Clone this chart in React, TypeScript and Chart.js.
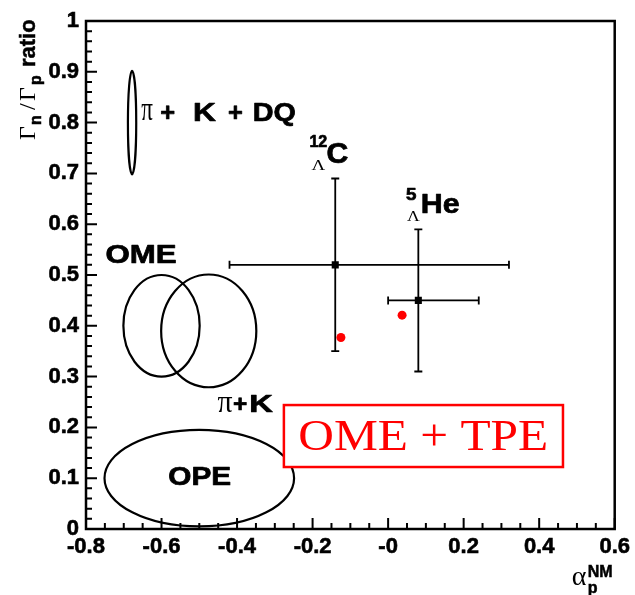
import React, { useEffect, useRef } from "react";
import { Chart, registerables } from "chart.js";

Chart.register(...registerables);

// ---- axis ticks ----
const xTickLabels = ["-0.8", "-0.6", "-0.4", "-0.2", "-0", "0.2", "0.4", "0.6"];
const yTickLabels = ["0", "0.1", "0.2", "0.3", "0.4", "0.5", "0.6", "0.7", "0.8", "0.9", "1"];
const xMin = -0.8;
const xMax = 0.6;
const yMin = 0;
const yMax = 1;

// ---- measured hypernuclei (black squares with error bars) ----
const expNames = ["12C", "5He"];
const expX = [-0.14, 0.08];
const expY = [0.52, 0.45];
const expXLow = [-0.42, 0.0];
const expXHigh = [0.32, 0.24];
const expYLow = [0.35, 0.31];
const expYHigh = [0.69, 0.59];

// ---- OME + TPE calculation (red dots) ----
const calcX = [-0.125, 0.037];
const calcY = [0.377, 0.421];

// ---- model regions (ellipses) ----
const ellipseNames = ["π+K+DQ", "OME", "π+K", "OPE"];
const ellipseCx = [-0.678, -0.6, -0.475, -0.5];
const ellipseCy = [0.8, 0.4, 0.39, 0.1];
const ellipseRx = [0.011, 0.101, 0.126, 0.251];
const ellipseRy = [0.102, 0.1, 0.111, 0.095];

const SANS = '"Liberation Sans", Arial, sans-serif';
const SERIF = '"Liberation Serif", "Times New Roman", serif';

// annotation pieces: ink left/right (x data), baseline (y data)
type Piece = { text: string; x0: number; x1: number; y: number; font: string; color?: string };
const pieces: Piece[] = [
  { text: "π", x0: -0.6534, x1: -0.6229, y: 0.806, font: `34px ${SERIF}` },
  { text: "+", x0: -0.6008, x1: -0.5658, y: 0.8022, font: `bold 25px ${SANS}` },
  { text: "K", x0: -0.5132, x1: -0.4561, y: 0.8022, font: `bold 25px ${SANS}` },
  { text: "+", x0: -0.4211, x1: -0.3861, y: 0.8022, font: `bold 25px ${SANS}` },
  { text: "DQ", x0: -0.3553, x1: -0.2455, y: 0.8022, font: `bold 25px ${SANS}` },
  { text: "OME", x0: -0.7455, x1: -0.5613, y: 0.523, font: `bold 26px ${SANS}` },
  { text: "π", x0: -0.4518, x1: -0.4124, y: 0.2309, font: `32px ${SERIF}` },
  { text: "+", x0: -0.4079, x1: -0.3729, y: 0.2309, font: `bold 24px ${SANS}` },
  { text: "K", x0: -0.3639, x1: -0.3026, y: 0.2309, font: `bold 24px ${SANS}` },
  { text: "OPE", x0: -0.5789, x1: -0.4166, y: 0.0866, font: `bold 26px ${SANS}` },
  { text: "12", x0: -0.206, x1: -0.1624, y: 0.7526, font: `bold 17px ${SANS}` },
  { text: "C", x0: -0.1605, x1: -0.1053, y: 0.7199, font: `bold 29px ${SANS}` },
  { text: "Λ", x0: -0.2026, x1: -0.1658, y: 0.7067, font: `15px ${SERIF}` },
  { text: "5", x0: 0.0474, x1: 0.0737, y: 0.6476, font: `bold 17px ${SANS}` },
  { text: "He", x0: 0.0895, x1: 0.1895, y: 0.6215, font: `bold 27px ${SANS}` },
  { text: "Λ", x0: 0.05, x1: 0.0842, y: 0.6069, font: `15px ${SERIF}` },
  { text: "OME + TPE", x0: -0.235, x1: 0.4193, y: 0.1555, font: `45px ${SERIF}`, color: "#ff0000" },
];
// red legend box (data coords)
const boxX = [-0.276, 0.463];
const boxY = [0.122, 0.244];

function fitText(ctx: CanvasRenderingContext2D, p: Piece, x: any, y: any) {
  const px0 = x.getPixelForValue(p.x0);
  const px1 = x.getPixelForValue(p.x1);
  const py = y.getPixelForValue(p.y);
  ctx.save();
  ctx.font = p.font;
  ctx.textAlign = "left";
  ctx.textBaseline = "alphabetic";
  const m = ctx.measureText(p.text);
  const ink = m.actualBoundingBoxLeft + m.actualBoundingBoxRight;
  const sx = ink > 0 ? (px1 - px0) / ink : 1;
  ctx.translate(px0, py);
  ctx.scale(sx, 1);
  const col = p.color || "#000";
  ctx.fillStyle = col;
  ctx.fillText(p.text, m.actualBoundingBoxLeft, 0);
  if (p.font.startsWith("bold")) {
    ctx.strokeStyle = col;
    ctx.lineWidth = 0.7;
    ctx.lineJoin = "round";
    ctx.strokeText(p.text, m.actualBoundingBoxLeft, 0);
  }
  ctx.restore();
}

const overlayPlugin = {
  id: "overlay",
  beforeDatasetsDraw(chart: any) {
    const { ctx, scales } = chart;
    const x = scales.x;
    const y = scales.y;
    ctx.save();
    ctx.strokeStyle = "#000";
    ctx.lineWidth = 2.2;
    for (let i = 0; i < ellipseNames.length; i++) {
      const cx = x.getPixelForValue(ellipseCx[i]);
      const cy = y.getPixelForValue(ellipseCy[i]);
      const rx = Math.abs(x.getPixelForValue(ellipseCx[i] + ellipseRx[i]) - cx);
      const ry = Math.abs(y.getPixelForValue(ellipseCy[i] + ellipseRy[i]) - cy);
      ctx.beginPath();
      ctx.ellipse(cx, cy, rx, ry, 0, 0, Math.PI * 2);
      ctx.stroke();
    }
    // error bars
    ctx.lineWidth = 1.8;
    const cap = 4;
    for (let i = 0; i < expNames.length; i++) {
      const px = x.getPixelForValue(expX[i]);
      const py = y.getPixelForValue(expY[i]);
      const xl = x.getPixelForValue(expXLow[i]);
      const xh = x.getPixelForValue(expXHigh[i]);
      const yl = y.getPixelForValue(expYLow[i]);
      const yh = y.getPixelForValue(expYHigh[i]);
      ctx.beginPath();
      ctx.moveTo(xl, py); ctx.lineTo(xh, py);
      ctx.moveTo(xl, py - cap); ctx.lineTo(xl, py + cap);
      ctx.moveTo(xh, py - cap); ctx.lineTo(xh, py + cap);
      ctx.moveTo(px, yl); ctx.lineTo(px, yh);
      ctx.moveTo(px - cap, yl); ctx.lineTo(px + cap, yl);
      ctx.moveTo(px - cap, yh); ctx.lineTo(px + cap, yh);
      ctx.stroke();
    }
    ctx.restore();
  },
  afterDraw(chart: any) {
    const { ctx, chartArea, scales } = chart;
    const x = scales.x;
    const y = scales.y;
    const { left, right, top, bottom } = chartArea;
    ctx.save();
    // frame
    ctx.strokeStyle = "#000";
    ctx.lineWidth = 2.5;
    ctx.strokeRect(left, top, right - left, bottom - top);
    // inner ticks
    ctx.lineWidth = 2;
    ctx.beginPath();
    const nx = Math.round((xMax - xMin) / 0.05);
    for (let i = 0; i <= nx; i++) {
      const px = x.getPixelForValue(xMin + i * 0.05);
      const len = i % 4 === 0 ? 11 : 6;
      ctx.moveTo(px, bottom);
      ctx.lineTo(px, bottom - len);
    }
    const ny = Math.round((yMax - yMin) / 0.02);
    for (let i = 0; i <= ny; i++) {
      const py = y.getPixelForValue(yMin + i * 0.02);
      const len = i % 5 === 0 ? 11 : 6;
      ctx.moveTo(left, py);
      ctx.lineTo(left + len, py);
    }
    ctx.stroke();

    // red legend box
    ctx.strokeStyle = "#ff0000";
    ctx.lineWidth = 2.5;
    const bx0 = x.getPixelForValue(boxX[0]);
    const bx1 = x.getPixelForValue(boxX[1]);
    const by0 = y.getPixelForValue(boxY[1]);
    const by1 = y.getPixelForValue(boxY[0]);
    ctx.fillStyle = "#fff";
    ctx.fillRect(bx0, by0, bx1 - bx0, by1 - by0);
    ctx.strokeRect(bx0, by0, bx1 - bx0, by1 - by0);
    ctx.restore();

    for (const p of pieces) fitText(ctx, p, x, y);

    // y axis title (rotated)
    ctx.save();
    ctx.fillStyle = "#000";
    ctx.strokeStyle = "#000";
    ctx.lineWidth = 0.5;
    ctx.textBaseline = "alphabetic";
    ctx.textAlign = "left";
    ctx.translate(left - 51, top + 119);
    ctx.rotate(-Math.PI / 2);
    const yt: [string, number, number, string][] = [
      ["Γ", 0, 0, `24px ${SERIF}`],
      ["n", 15, 6, `bold 16px ${SANS}`],
      ["/", 30, 0, `24px ${SERIF}`],
      ["Γ", 39, 0, `24px ${SERIF}`],
      ["p", 55, 6, `bold 16px ${SANS}`],
      ["ratio", 73, 0, `bold 22px ${SANS}`],
    ];
    for (const [t, a, off, f] of yt) {
      ctx.font = f;
      ctx.fillText(t, a, off);
      if (f.startsWith("bold")) ctx.strokeText(t, a, off);
    }
    ctx.restore();

    // x axis title
    ctx.save();
    ctx.fillStyle = "#000";
    ctx.strokeStyle = "#000";
    ctx.lineWidth = 0.5;
    ctx.textBaseline = "alphabetic";
    ctx.textAlign = "left";
    ctx.font = `28px ${SERIF}`;
    ctx.fillText("α", right - 43, bottom + 56);
    ctx.font = `bold 16px ${SANS}`;
    ctx.fillText("NM", right - 27, bottom + 48);
    ctx.strokeText("NM", right - 27, bottom + 48);
    ctx.fillText("p", right - 27, bottom + 64);
    ctx.strokeText("p", right - 27, bottom + 64);
    ctx.restore();
  },
};

export default function App() {
  const ref = useRef<HTMLCanvasElement | null>(null);
  useEffect(() => {
    if (!ref.current) return;
    const tickFont = { family: SANS, weight: "bold" as const, size: 22 };
    const chart = new Chart(ref.current, {
      type: "scatter",
      data: {
        datasets: [
          {
            label: "OME + TPE",
            data: calcX.map((v, i) => ({ x: v, y: calcY[i] })),
            backgroundColor: "#ff0000",
            borderColor: "#ff0000",
            pointStyle: "circle",
            pointRadius: 4.5,
            borderWidth: 0,
          },
          {
            label: "experiment",
            data: expX.map((v, i) => ({ x: v, y: expY[i] })),
            backgroundColor: "#000",
            borderColor: "#000",
            pointStyle: "rect",
            pointRadius: 5,
            borderWidth: 0,
          },
        ],
      },
      options: {
        animation: false,
        responsive: false,
        maintainAspectRatio: false,
        layout: { padding: { left: 0, right: 17, top: 21, bottom: 0 } },
        plugins: { legend: { display: false }, tooltip: { enabled: false } },
        scales: {
          x: {
            type: "linear",
            min: xMin,
            max: xMax,
            afterFit: (s: any) => { s.height = 66; },
            grid: { display: false, drawTicks: false },
            border: { display: false },
            ticks: {
              stepSize: 0.2,
              autoSkip: false,
              maxRotation: 0,
              padding: 5,
              color: "#000",
              textStrokeColor: "#000",
              textStrokeWidth: 0.6,
              font: tickFont,
              callback: (_v: any, i: number) => xTickLabels[i],
            },
          },
          y: {
            type: "linear",
            min: yMin,
            max: yMax,
            afterFit: (s: any) => { s.width = 86; },
            grid: { display: false, drawTicks: false },
            border: { display: false },
            ticks: {
              stepSize: 0.1,
              autoSkip: false,
              padding: 7,
              color: "#000",
              textStrokeColor: "#000",
              textStrokeWidth: 0.6,
              font: tickFont,
              callback: (_v: any, i: number) => yTickLabels[i],
            },
          },
        },
      },
      plugins: [overlayPlugin],
    });
    return () => chart.destroy();
  }, []);
  return (
    <div style={{ position: "absolute", left: 0, top: 0, width: 635, height: 595, background: "#fff" }}>
      <canvas ref={ref} width={635} height={595} />
    </div>
  );
}
